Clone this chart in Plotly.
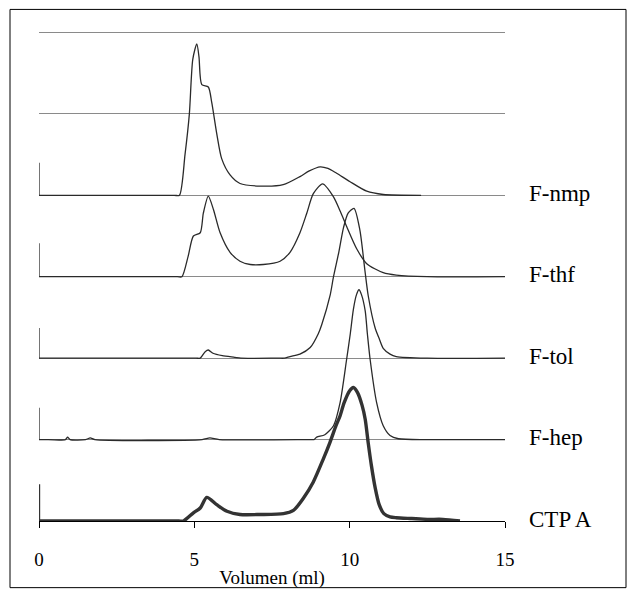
import plotly.graph_objects as go

# ---- data (volume in ml, detector signal in relative units) ----
labels = ["F-nmp", "F-thf", "F-tol", "F-hep", "CTP A"]
offsets = [4, 3, 2, 1, 0]
spike_heights = [0.40, 0.41, 0.37, 0.39, 0.45]   # injection marker at 0 ml

nmp_x = [0, 0.15, 4.35, 4.52, 4.70, 4.84, 4.95, 5.08, 5.15, 5.24, 5.45, 5.56, 5.72, 5.88,
         6.15, 6.47, 7.12, 7.86, 8.40, 8.70, 9.05, 9.30, 9.58, 10.0, 10.55, 11.08, 12.3]
nmp_y = [0, 0, 0, 0, 0.50, 1.00, 1.67, 1.86, 1.70, 1.36, 1.33, 1.14, 0.76, 0.45,
         0.25, 0.145, 0.113, 0.13, 0.23, 0.30, 0.35, 0.33, 0.27, 0.17, 0.05, 0.01, 0.0]

thf_x = [0, 0.15, 4.45, 4.60, 4.80, 4.97, 5.19, 5.29, 5.45, 5.62, 5.83, 6.15, 6.47, 6.80,
         7.22, 7.76, 8.08, 8.40, 8.62, 8.83, 9.13, 9.48, 9.70, 9.90, 10.23, 10.55, 11.08,
         11.5, 12.5, 15.0]
thf_y = [0, 0, 0, 0, 0.25, 0.50, 0.54, 0.78, 0.99, 0.82, 0.54, 0.30, 0.19, 0.15,
         0.15, 0.19, 0.30, 0.54, 0.78, 1.02, 1.14, 0.98, 0.80, 0.62, 0.34, 0.16, 0.05,
         0.02, 0.0, 0.0]

tol_x = [0, 0.15, 5.05, 5.19, 5.35, 5.45, 5.60, 5.90, 6.30, 6.50, 7.70, 7.90, 8.08, 8.40,
         8.73, 8.99, 9.10, 9.37, 9.48, 9.65, 9.80, 9.95, 10.14, 10.33, 10.49, 10.60, 10.82,
         10.95, 11.08, 11.3, 11.5, 12.5, 15.0]
tol_y = [0, 0, 0, 0, 0.08, 0.10, 0.06, 0.03, 0.01, 0, 0, 0, 0.02, 0.05,
         0.13, 0.30, 0.41, 0.77, 1.00, 1.30, 1.60, 1.78, 1.84, 1.57, 1.08, 0.76, 0.37,
         0.24, 0.12, 0.05, 0.02, 0.0, 0.0]

hep_x = [0, 0.15, 0.85, 0.92, 1.00, 1.50, 1.65, 1.80, 5.25, 5.50, 5.80, 8.70, 8.85, 8.94,
         9.20, 9.48, 9.69, 9.90, 10.02, 10.12, 10.22, 10.30, 10.38, 10.50, 10.57, 10.66,
         10.87, 11.08, 11.3, 11.57, 12.5, 15.0]
hep_y = [0, 0, 0, 0.03, 0, 0, 0.02, 0, 0, 0.02, 0, 0, 0, 0.03,
         0.06, 0.17, 0.45, 0.98, 1.30, 1.60, 1.78, 1.84, 1.78, 1.58, 1.30, 0.98,
         0.45, 0.17, 0.05, 0.01, 0.0, 0.0]

ctp_x = [0, 0.15, 4.50, 4.65, 4.97, 5.19, 5.40, 5.72, 6.05, 6.47, 7.12, 7.87, 8.19, 8.51,
         8.83, 9.15, 9.37, 9.56, 9.69, 9.82, 10.0, 10.12, 10.25, 10.40, 10.50, 10.60, 10.70,
         10.82, 10.95, 11.10, 11.3, 11.5, 12.0, 12.5, 13.0, 13.55]
ctp_y = [0, 0, 0, 0, 0.10, 0.16, 0.29, 0.20, 0.12, 0.08, 0.08, 0.09, 0.13, 0.28,
         0.48, 0.76, 0.97, 1.17, 1.29, 1.45, 1.60, 1.64, 1.58, 1.42, 1.25, 0.95, 0.68,
         0.41, 0.20, 0.09, 0.05, 0.04, 0.03, 0.02, 0.02, 0.0]

tick_vals = [0, 5, 10, 15]
x_title = "Volumen (ml)"

series = [(nmp_x, nmp_y), (thf_x, thf_y), (tol_x, tol_y), (hep_x, hep_y), (ctp_x, ctp_y)]

FONT = "Liberation Serif, Times New Roman, serif"
W, H = 628, 596
L, R, T, B = 39, 123, 30, 65
YMAX = 6.03
pw, ph = W - L - R, H - T - B

fig = go.Figure()
for (xs, ys), off, name, sh in zip(series, offsets, labels, spike_heights):
    thick = name == "CTP A"
    color = "#333333" if thick else "#2a2a2a"
    width = 3.4 if thick else 1.3
    # injection marker spike (straight segment)
    fig.add_trace(go.Scatter(
        x=[xs[0], xs[0]], y=[off + sh, off + ys[0]], mode="lines",
        line=dict(color=color, width=width * 0.7 if thick else width),
        hoverinfo="skip", showlegend=False))
    fig.add_trace(go.Scatter(
        x=xs, y=[v + off for v in ys], mode="lines", name=name,
        line=dict(color=color, width=width, shape="spline", smoothing=0.7),
        hoverinfo="skip", showlegend=False))

for name, off in zip(labels, offsets):
    fig.add_annotation(x=(527 - L) / pw, xref="paper", y=off, yref="y",
                       text=name, showarrow=False, xanchor="left", yanchor="middle",
                       yshift=2, font=dict(family=FONT, size=23, color="#000000"))

# outer border
fig.add_shape(type="rect", xref="paper", yref="paper",
              x0=(10 - L) / pw, x1=(626 - L) / pw,
              y0=(H - B - 599) / ph, y1=(H - B - 9) / ph,
              line=dict(color="#000000", width=1), layer="below")

fig.update_layout(
    width=W, height=H, margin=dict(l=L, r=R, t=T, b=B),
    paper_bgcolor="white", plot_bgcolor="white",
    font=dict(family=FONT, color="#000000"),
    xaxis=dict(range=[0, 15], tickvals=tick_vals, ticks="outside", ticklen=6,
               tickcolor="#000000", showline=True, linecolor="#000000", linewidth=1,
               showgrid=False, zeroline=False, tickfont=dict(family=FONT, size=19),
               ticklabelstandoff=15,
               title=dict(text=x_title, font=dict(family=FONT, size=19), standoff=1)),
    yaxis=dict(range=[0, YMAX], tickvals=[0, 1, 2, 3, 4, 5, 6], showgrid=True,
               gridcolor="#8a8a8a", gridwidth=1,
               zeroline=False, showticklabels=False, ticks="", showline=False),
)

fig.write_html("out.html")
